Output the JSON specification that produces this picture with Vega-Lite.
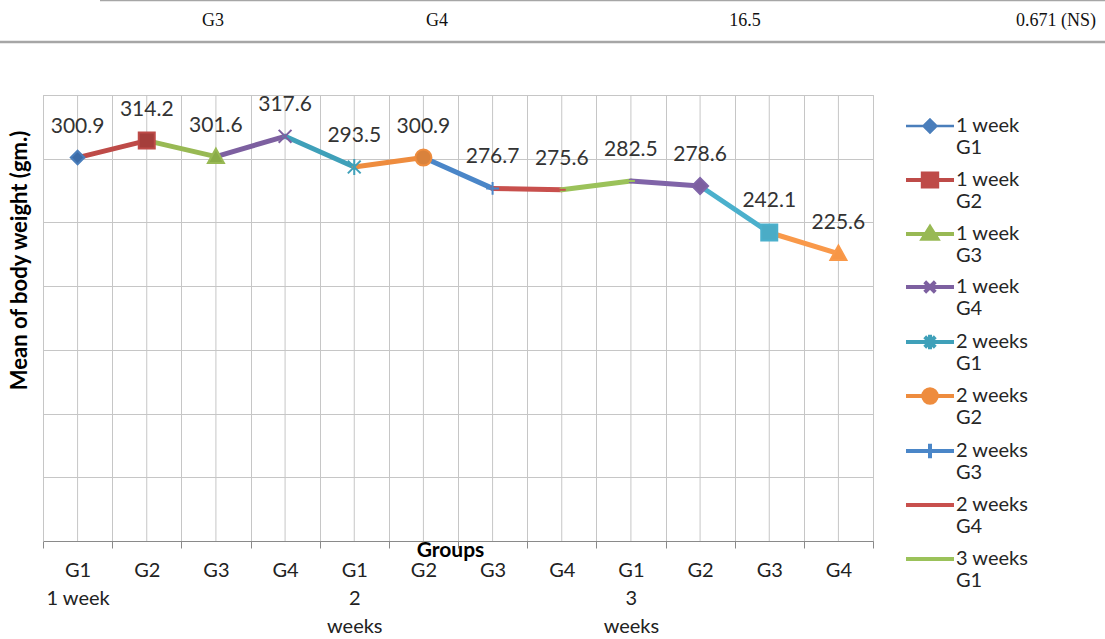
{
  "$schema": "https://vega.github.io/schema/vega-lite/v6.json",
  "width": 830,
  "height": 446,
  "autosize": {"type": "none"},
  "padding": {"left": 43, "top": 95, "right": 232, "bottom": 98},
  "background": "white",
  "config": {
    "font": "Lato",
    "view": {"stroke": "#c6c6c6", "strokeWidth": 1}
  },
  "datasets": {
    "points": [
      {"idx": 1, "series": "1 week G1", "value": 300.9},
      {"idx": 2, "series": "1 week G2", "value": 314.2},
      {"idx": 3, "series": "1 week G3", "value": 301.6},
      {"idx": 4, "series": "1 week G4", "value": 317.6},
      {"idx": 5, "series": "2 weeks G1", "value": 293.5},
      {"idx": 6, "series": "2 weeks G2", "value": 300.9},
      {"idx": 7, "series": "2 weeks G3", "value": 276.7},
      {"idx": 8, "series": "2 weeks G4", "value": 275.6},
      {"idx": 9, "series": "3 weeks G1", "value": 282.5},
      {"idx": 10, "series": "3 weeks G2", "value": 278.6},
      {"idx": 11, "series": "3 weeks G3", "value": 242.1},
      {"idx": 12, "series": "3 weeks G4", "value": 225.6}
    ],
    "segments": [
      {"series": "1 week G2", "idx": 1, "value": 300.9},
      {"series": "1 week G2", "idx": 2, "value": 314.2},
      {"series": "1 week G3", "idx": 2, "value": 314.2},
      {"series": "1 week G3", "idx": 3, "value": 301.6},
      {"series": "1 week G4", "idx": 3, "value": 301.6},
      {"series": "1 week G4", "idx": 4, "value": 317.6},
      {"series": "2 weeks G1", "idx": 4, "value": 317.6},
      {"series": "2 weeks G1", "idx": 5, "value": 293.5},
      {"series": "2 weeks G2", "idx": 5, "value": 293.5},
      {"series": "2 weeks G2", "idx": 6, "value": 300.9},
      {"series": "2 weeks G3", "idx": 6, "value": 300.9},
      {"series": "2 weeks G3", "idx": 7, "value": 276.7},
      {"series": "2 weeks G4", "idx": 7, "value": 276.7},
      {"series": "2 weeks G4", "idx": 8, "value": 275.6},
      {"series": "3 weeks G1", "idx": 8, "value": 275.6},
      {"series": "3 weeks G1", "idx": 9, "value": 282.5},
      {"series": "3 weeks G2", "idx": 9, "value": 282.5},
      {"series": "3 weeks G2", "idx": 10, "value": 278.6},
      {"series": "3 weeks G3", "idx": 10, "value": 278.6},
      {"series": "3 weeks G3", "idx": 11, "value": 242.1},
      {"series": "3 weeks G4", "idx": 11, "value": 242.1},
      {"series": "3 weeks G4", "idx": 12, "value": 225.6}
    ],
    "cells": [
      {"text": "G3", "cx": 213, "cy": 21},
      {"text": "G4", "cx": 437, "cy": 21},
      {"text": "16.5", "cx": 745, "cy": 21},
      {"text": "0.671 (NS)", "cx": 1056, "cy": 21}
    ],
    "topRule": [{"x1": 100, "x2": 1105, "y": 0.5}],
    "bottomRule": [{"x1": 0, "x2": 1105, "y": 42}]
  },
  "layer": [
    {
      "layer": [
        {
          "data": {"name": "points"},
          "mark": {"type": "rule", "color": "#c6c6c6", "strokeWidth": 1},
          "encoding": {
            "x": {
              "field": "idx",
              "type": "ordinal",
              "scale": {"type": "band", "paddingInner": 0, "paddingOuter": 0},
              "axis": {
                "tickBand": "extent",
                "grid": true,
                "gridColor": "#c6c6c6",
                "domainColor": "#8a8a8a",
                "tickColor": "#8a8a8a",
                "tickSize": 7,
                "labelAngle": 0,
                "labelFontSize": 20,
                "labelLineHeight": 28,
                "labelColor": "#222",
                "labelPadding": 12,
                "labelBaseline": "top",
                "labelExpr": "[['G1','1 week'],['G2'],['G3'],['G4'],['G1','2','weeks'],['G2'],['G3'],['G4'],['G1','3','weeks'],['G2'],['G3'],['G4']][datum.value - 1]",
                "title": "Groups",
                "titleFontSize": 21,
                "titleFontWeight": "bold",
                "titleColor": "#000",
                "titleX": 407,
                "titleY": -2,
                "titleAlign": "center",
                "titleBaseline": "top",
                "titleAnchor": null
              }
            }
          }
        },
        {
          "data": {"name": "segments"},
          "mark": {"type": "line", "strokeWidth": 5, "strokeCap": "round", "strokeJoin": "round"},
          "encoding": {
            "x": {"field": "idx", "type": "ordinal"},
            "y": {
              "field": "value",
              "type": "quantitative",
              "scale": {"domain": [0, 350], "nice": false, "zero": true},
              "axis": {
                "values": [0, 50, 100, 150, 200, 250, 300, 350],
                "labels": false,
                "ticks": false,
                "grid": true,
                "gridColor": "#c6c6c6",
                "domainColor": "#c6c6c6",
                "title": "Mean of body weight (gm.)",
                "titleFontSize": 22,
                "titleFontWeight": "bold",
                "titleColor": "#000",
                "titleAngle": -90,
                "titleX": -24,
                "titleY": 165,
                "titleAlign": "center",
                "titleBaseline": "middle",
                "titleAnchor": null
              }
            },
            "detail": {"field": "series"},
            "stroke": {
              "field": "series",
              "type": "nominal",
              "sort": null,
              "scale": {
                "domain": ["1 week G1", "1 week G2", "1 week G3", "1 week G4", "2 weeks G1", "2 weeks G2", "2 weeks G3", "2 weeks G4", "3 weeks G1", "3 weeks G2", "3 weeks G3", "3 weeks G4"],
                "range": ["#4A7EBB", "#BE4B48", "#98B954", "#7D60A0", "#3FA0B9", "#EE8C3E", "#4A86C8", "#C8504D", "#9BC25A", "#8064A8", "#4BB0CC", "#F9994A"]
              },
              "legend": {
                "orient": "none",
                "legendX": 877,
                "legendY": 21,
                "title": null,
                "padding": 0,
                "values": ["1 week G1", "1 week G2", "1 week G3", "1 week G4", "2 weeks G1", "2 weeks G2", "2 weeks G3", "2 weeks G4", "3 weeks G1"],
                "labelFontSize": 20,
                "labelLineHeight": 27,
                "labelColor": "#262626",
                "labelOffset": 16,
                "labelLimit": 300,
                "rowPadding": 7,
                "symbolSize": 2304,
                "symbolStrokeWidth": 3,
                "labelExpr": "[slice(datum.label, 0, length(datum.label) - 3), slice(datum.label, length(datum.label) - 2)]",
                "encode": {
                  "symbols": {
                    "update": {
                      "shape": {"signal": "['M-1,0H1M0,-0.27L0.27,0L0,0.27L-0.27,0Z','M-1,0H1M-0.3,-0.27H0.3V0.27H-0.3Z','M-1,0H1M0,-0.28L0.3,0.2H-0.3Z','M-1,0H1M-0.22,-0.22L0.22,0.22M-0.22,0.22L0.22,-0.22','M-1,0H1M-0.22,-0.22L0.22,0.22M-0.22,0.22L0.22,-0.22M0,-0.3V0.3','M-1,0H1M-0.28,0A0.28,0.28 0 1,0 0.28,0A0.28,0.28 0 1,0 -0.28,0Z','M-1,0H1M0,-0.3V0.3','M-1,0H1M0,-0.28L0,-0.28M0,0.28L0,0.28','M-1,0H1M0,-0.28L0,-0.28M0,0.28L0,0.28','M-1,0H1M0,-0.27L0.27,0L0,0.27L-0.27,0Z','M-1,0H1M-0.3,-0.27H0.3V0.27H-0.3Z','M-1,0H1M0,-0.28L0.3,0.2H-0.3Z'][indexof(domain('stroke'), datum.value)]"},
                      "fill": {"scale": "stroke", "field": "value"},
                      "stroke": {"scale": "stroke", "field": "value"},
                      "strokeWidth": {"signal": "indexof(domain('stroke'), datum.value) === 0 ? 2.5 : 4"},
                      "size": {"value": 2304},
                      "opacity": {"value": 1}
                    }
                  }
                }
              }
            }
          }
        },
        {
          "data": {"name": "points"},
          "mark": {"type": "point", "strokeWidth": 2, "size": 256, "opacity": 1},
          "encoding": {
            "x": {"field": "idx", "type": "ordinal"},
            "y": {"field": "value", "type": "quantitative"},
            "stroke": {"field": "series", "type": "nominal", "sort": null},
            "fill": {
              "field": "idx",
              "type": "nominal",
              "sort": null,
              "scale": {
                "domain": [1, 2, 3, 4, 5, 6, 7, 8, 9, 10, 11, 12],
                "range": ["#3C6CA8", "#A53E3B", "#8AAC48", "#8064A2", "#4BACC6", "#D9823C", "#4A7EBB", "#C0504D", "#9BBB59", "#7D5FA0", "#4BACC6", "#F79646"]
              },
              "legend": null
            },
            "shape": {
              "field": "idx",
              "type": "nominal",
              "sort": null,
              "scale": {
                "domain": [1, 2, 3, 4, 5, 6, 7, 8, 9, 10, 11, 12],
                "range": ["M0,-0.85L0.85,0L0,0.85L-0.85,0Z", "M-1,-1H1V1H-1Z", "M0,-1L1,0.8H-1Z", "M-0.8,-0.8L0.8,0.8M-0.8,0.8L0.8,-0.8", "M-0.8,-0.8L0.8,0.8M-0.8,0.8L0.8,-0.8M0,-1V1", "circle", "M0,-0.8V0.8M-0.8,0H0.8", "M-0.5,0H0.5", "M-0.5,0H0.5", "M0,-1L1,0L0,1L-1,0Z", "M-1,-1H1V1H-1Z", "M0,-1L1,0.8H-1Z"]
              },
              "legend": null
            }
          }
        },
        {
          "data": {"name": "points"},
          "mark": {"type": "text", "dy": -31, "fontSize": 21, "color": "#333"},
          "encoding": {
            "x": {"field": "idx", "type": "ordinal"},
            "y": {"field": "value", "type": "quantitative"},
            "text": {"field": "value", "type": "quantitative", "format": ".1f"}
          }
        }
      ]
    },
    {
      "layer": [
        {
          "data": {"name": "cells"},
          "mark": {"type": "text", "font": "Liberation Serif", "fontSize": 18, "color": "#111", "baseline": "middle"},
          "encoding": {
            "x": {"field": "cx", "type": "quantitative", "scale": {"domain": [0, 1105], "range": [-43, 1062], "nice": false, "zero": false}, "axis": null},
            "y": {"field": "cy", "type": "quantitative", "scale": {"domain": [0, 42], "range": [-95, -53], "nice": false, "zero": false}, "axis": null},
            "text": {"field": "text"}
          }
        },
        {
          "data": {"name": "topRule"},
          "mark": {"type": "rule", "color": "#a6a6a6", "strokeWidth": 1.5},
          "encoding": {
            "x": {"field": "x1", "type": "quantitative", "axis": null},
            "x2": {"field": "x2"},
            "y": {"field": "y", "type": "quantitative", "axis": null}
          }
        },
        {
          "data": {"name": "bottomRule"},
          "mark": {"type": "rule", "color": "#a6a6a6", "strokeWidth": 2.5},
          "encoding": {
            "x": {"field": "x1", "type": "quantitative", "axis": null},
            "x2": {"field": "x2"},
            "y": {"field": "y", "type": "quantitative", "axis": null}
          }
        }
      ]
    }
  ],
  "resolve": {
    "scale": {"x": "independent", "y": "independent"},
    "axis": {"x": "independent", "y": "independent"}
  }
}
